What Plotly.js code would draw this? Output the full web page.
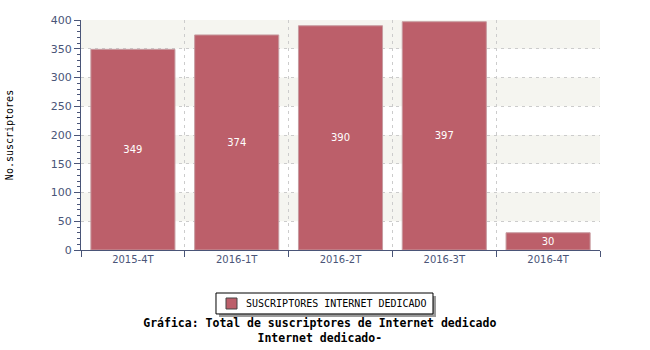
<!DOCTYPE html>
<html><head><meta charset="utf-8">
<script src="https://cdn.plot.ly/plotly-3.0.1.min.js"></script>
<style>body{margin:0;background:#fff}#c{width:650px;height:350px}</style>
</head><body><div id="c"></div>
<script>
const categories = ["2015-4T","2016-1T","2016-2T","2016-3T","2016-4T"];
const values = [349, 374, 390, 397, 30];
const seriesName = "SUSCRIPTORES INTERNET DEDICADO";
const yTickVals = [0,50,100,150,200,250,300,350,400];
const bandStarts = [50,150,250,350];

const axisColor = "#4a5578";
const barColor = "#bc5f6a";
const shapes = bandStarts.map(b => ({type:"rect", xref:"paper", yref:"y", x0:0, x1:1, y0:b, y1:b+50,
  fillcolor:"#f5f5f0", line:{width:0}, layer:"below"}));
// legend box (shadow, frame, swatch)
shapes.push({type:"rect", xref:"paper", yref:"paper", x0:0.2659, x1:0.6840, y0:-0.200, y1:-0.2913,
  fillcolor:"#9a9a9a", line:{width:0}, layer:"above"});
shapes.push({type:"rect", xref:"paper", yref:"paper", x0:0.2601, x1:0.6782, y0:-0.187, y1:-0.278,
  fillcolor:"#ffffff", line:{color:"#000", width:1}, layer:"above"});
shapes.push({type:"rect", xref:"paper", yref:"paper", x0:0.2794, x1:0.3006, y0:-0.2087, y1:-0.2565,
  fillcolor:barColor, line:{color:"#444", width:1}, layer:"above"});

const trace = {
  type:"bar", x:categories, y:values, name:seriesName,
  text:values.map(String), textposition:"inside", insidetextanchor:"middle",
  textfont:{color:"#ffffff", family:"DejaVu Sans", size:10},
  marker:{color:barColor, line:{color:"#c79ba0", width:1}},
  width:0.81, showlegend:false, hoverinfo:"skip"
};

const layout = {
  width:650, height:350,
  margin:{l:81, r:50, t:20, b:100},
  paper_bgcolor:"#fff", plot_bgcolor:"#fff",
  font:{family:"DejaVu Sans", size:10, color:axisColor},
  shapes:shapes,
  annotations:[{text:seriesName, xref:"paper", yref:"paper", x:0.3141, y:-0.2326,
    xanchor:"left", yanchor:"middle", showarrow:false,
    font:{family:"DejaVu Sans Mono", size:10, color:"#000"}}],
  xaxis:{type:"category", tickson:"boundaries", ticks:"outside", ticklen:6, tickcolor:axisColor,
    showline:true, linecolor:axisColor, linewidth:1, showgrid:true, gridcolor:"#cccccc",
    griddash:"3px,4px", tickfont:{size:10, color:axisColor}, zeroline:false},
  yaxis:{range:[0,400], tickvals:yTickVals, ticks:"outside", ticklen:6, tickcolor:axisColor,
    showline:true, linecolor:axisColor, linewidth:1, showgrid:true, gridcolor:"#cccccc",
    griddash:"3px,4px", zeroline:false, tickfont:{size:11, color:axisColor},
    minor:{dtick:10, ticks:"outside", ticklen:3, tickcolor:axisColor, showgrid:false},
    title:{text:"No.suscriptores", font:{family:"DejaVu Sans Mono", size:10, color:"#000"}, standoff:35}},
  showlegend:false,
  title:{text:"<b>Gráfica: Total de suscriptores de Internet dedicado<br>Internet dedicado-</b>",
    xref:"container", yref:"container", x:0.492, xanchor:"center", y:0.067, yanchor:"middle",
    font:{family:"DejaVu Sans Mono", size:11.5, color:"#000"}},
  bargap:0.19
};
Plotly.newPlot("c", [trace], layout, {displayModeBar:false, staticPlot:true});
</script></body></html>
